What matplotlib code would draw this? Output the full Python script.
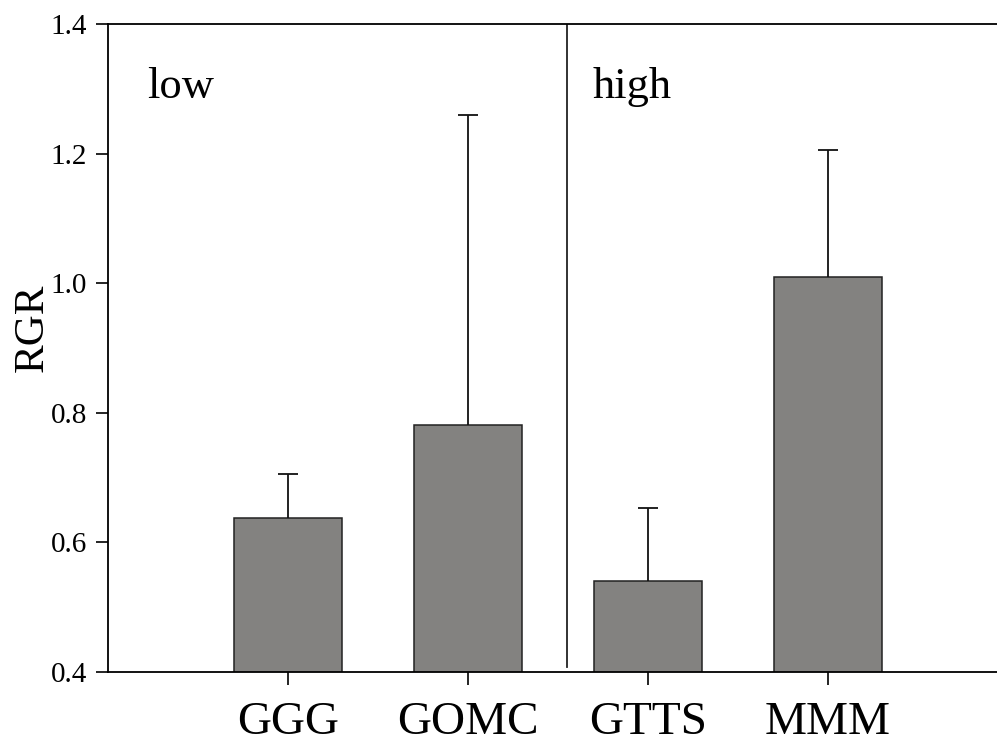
import numpy as np
import matplotlib
matplotlib.use("Agg")
import matplotlib.pyplot as plt

plt.rcParams['font.family'] = ['Liberation Serif', 'DejaVu Serif']

# Daten
categories = ['GGG', 'GOMC', 'GTTS', 'MMM']
rgr = [0.638, 0.781, 0.540, 1.010]
err = [0.068, 0.478, 0.113, 0.196]
group_labels = ['low', 'high']

fig = plt.figure(figsize=(9.97, 7.42), dpi=100)
ax = fig.add_axes([108/997, 1 - 672/742, 900/997, 648/742])

x = np.arange(1, len(categories) + 1)
ax.bar(x, rgr, width=0.6, color='#838280', edgecolor='#222222', linewidth=1.1)
eb = ax.errorbar(x, rgr, yerr=[np.zeros(len(err)), err], fmt='none',
                 ecolor='#111111', elinewidth=1.3, capsize=7, capthick=1.3)
# nur obere Fehlerbalken
eb[1][0].set_visible(False)

# Trennlinie low / high
ax.plot([2.55, 2.55], [0.408, 1.4], color='#222222', linewidth=1.3)
ax.text(0.22, 1.286, group_labels[0], fontsize=32)
ax.text(2.69, 1.286, group_labels[1], fontsize=32)

ax.set_xlim(0, 5)
ax.set_ylim(0.4, 1.4)
ax.set_xticks(x)
ax.set_xticklabels(categories, fontsize=34)
ax.set_yticks(np.arange(0.4, 1.41, 0.2))
ax.set_yticklabels(['%.1f' % v for v in np.arange(0.4, 1.41, 0.2)], fontsize=21)
ax.tick_params(axis='x', direction='out', length=9, width=1.2, pad=12)
ax.tick_params(axis='y', direction='out', length=9, width=1.2, pad=6)
ax.set_ylabel('RGR', fontsize=31)
ax.yaxis.set_label_coords(-0.063, 0.532)

ax.spines['right'].set_visible(False)
for s in ['left', 'top', 'bottom']:
    ax.spines[s].set_linewidth(1.3)

fig.savefig('out.png', dpi=100)
